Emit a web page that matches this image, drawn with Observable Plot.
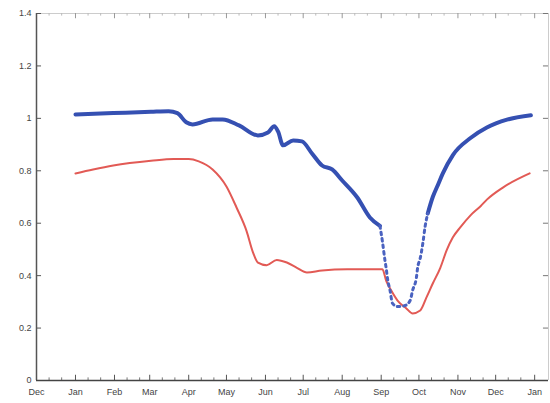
<!DOCTYPE html>
<html><head><meta charset="utf-8">
<script src="https://cdn.jsdelivr.net/npm/d3@7"></script>
<script src="https://cdn.jsdelivr.net/npm/@observablehq/plot@0.6"></script>
<style>body{margin:0;background:#fff}#chart svg{display:block}</style>
</head><body><div id="chart"></div>
<script>
// Blue series (x markers)
const blueDates = ["2007-01-01","2007-01-31","2007-03-02","2007-03-16","2007-03-23","2007-03-30","2007-04-04","2007-04-20","2007-04-28","2007-05-11","2007-05-26","2007-06-03","2007-06-08","2007-06-11","2007-06-15","2007-06-23","2007-06-30","2007-07-08","2007-07-16","2007-07-24","2007-08-01","2007-08-13","2007-08-23","2007-08-31","2007-09-02","2007-09-04","2007-09-05","2007-09-06","2007-09-08","2007-09-10","2007-09-14","2007-09-20","2007-09-24","2007-09-26","2007-09-29","2007-09-30","2007-10-02","2007-10-04","2007-10-06","2007-10-08","2007-10-12","2007-10-16","2007-10-20","2007-10-28","2007-11-11","2007-11-24","2007-12-10","2007-12-29"];
const blueValues = [1.015,1.02,1.025,1.027,1.02,0.985,0.977,0.996,0.996,0.973,0.935,0.946,0.97,0.95,0.897,0.916,0.912,0.866,0.82,0.805,0.763,0.698,0.622,0.59,0.53,0.458,0.427,0.39,0.344,0.294,0.282,0.286,0.305,0.344,0.393,0.431,0.466,0.52,0.59,0.637,0.70,0.745,0.79,0.86,0.925,0.965,0.995,1.012];
// Red series
const redDates = ["2007-01-01","2007-01-15","2007-01-31","2007-03-02","2007-03-20","2007-04-01","2007-04-09","2007-04-20","2007-05-01","2007-05-09","2007-05-17","2007-05-22","2007-05-26","2007-06-02","2007-06-10","2007-06-18","2007-06-26","2007-07-04","2007-07-16","2007-08-05","2007-09-02","2007-09-05","2007-09-09","2007-09-14","2007-09-21","2007-09-26","2007-10-02","2007-10-07","2007-10-12","2007-10-18","2007-10-23","2007-10-28","2007-11-03","2007-11-11","2007-11-19","2007-11-24","2007-12-07","2007-12-28"];
const redValues = [0.79,0.805,0.82,0.838,0.845,0.845,0.836,0.805,0.74,0.66,0.57,0.49,0.45,0.44,0.46,0.45,0.43,0.412,0.42,0.424,0.424,0.38,0.343,0.305,0.275,0.256,0.267,0.317,0.37,0.43,0.496,0.546,0.585,0.63,0.665,0.69,0.737,0.79];
// Axis ticks
const monthTicks = ["2006-12-01","2007-01-01","2007-02-01","2007-03-01","2007-04-01","2007-05-01","2007-06-01","2007-07-01","2007-08-01","2007-09-01","2007-10-01","2007-11-01","2007-12-01","2008-01-01"];
const monthLabels = ["Dec","Jan","Feb","Mar","Apr","May","Jun","Jul","Aug","Sep","Oct","Nov","Dec","Jan"];
const yTicks = [0,0.2,0.4,0.6,0.8,1,1.2,1.4];
const yLabels = ["0","0.2","0.4","0.6","0.8","1","1.2","1.4"];

const parse = d3.utcParse("%Y-%m-%d");
const steepStart = parse("2007-08-31"), steepEnd = parse("2007-10-08");
const blue = blueDates.map((d,i)=>({date: parse(d), value: blueValues[i]}));
const red = redDates.map((d,i)=>({date: parse(d), value: redValues[i]}));
const months = monthTicks.map(parse);
const minor = months.slice(0,-1).flatMap(m => [d3.utcDay.offset(m,10), d3.utcDay.offset(m,20)]);
const xStart = parse("2006-12-01"), xEnd = parse("2008-01-12");
const labelByTime = new Map(months.map((d,i)=>[+d, monthLabels[i]]));
const yLabelMap = new Map(yTicks.map((d,i)=>[d, yLabels[i]]));
const tx = d3.utcDay.offset(xStart, 4), txr = d3.utcDay.offset(xEnd, -4);

const plot = Plot.plot({
  width: 550, height: 403,
  marginLeft: 36, marginRight: 2, marginTop: 13, marginBottom: 23,
  style: {fontFamily: "Liberation Sans, Arial, sans-serif", fontSize: "9px", color: "#555", background: "#fff"},
  x: {type: "utc", domain: [xStart, xEnd], label: null},
  y: {domain: [0, 1.4], label: null},
  marks: [
    Plot.axisX({ticks: months, tickSize: 0, tickPadding: 8, tickFormat: d => labelByTime.get(+d), fill: "#444", label: null}),
    Plot.axisY({ticks: yTicks, tickSize: 0, tickPadding: 5, tickFormat: d => yLabelMap.get(d), fill: "#444", label: null}),
    // frame
    Plot.ruleY([1.4], {stroke: "#ccc"}),
    Plot.ruleX([xEnd], {stroke: "#ccc"}),
    // inward ticks
    Plot.ruleX(months, {x: d => d, y1: 0, y2: 0.02, stroke: "#555"}),
    Plot.ruleX(minor, {x: d => d, y1: 0, y2: 0.01, stroke: "#777"}),
    Plot.ruleX(months, {x: d => d, y1: 1.4, y2: 1.38, stroke: "#999"}),
    Plot.ruleX(minor, {x: d => d, y1: 1.4, y2: 1.39, stroke: "#bbb"}),
    Plot.ruleY(yTicks, {y: d => d, x1: xStart, x2: tx, stroke: "#555"}),
    Plot.ruleY(yTicks, {y: d => d, x1: txr, x2: xEnd, stroke: "#777"}),
    // data
    Plot.line(red, {x: "date", y: "value", stroke: "#e25a55", strokeWidth: 2, curve: "monotone-x"}),
    Plot.line(blue.filter(d => d.date <= steepStart), {x: "date", y: "value", stroke: "#3550b2", strokeWidth: 4, curve: "monotone-x"}),
    Plot.line(blue.filter(d => d.date >= steepEnd), {x: "date", y: "value", stroke: "#3550b2", strokeWidth: 4, curve: "monotone-x"}),
    Plot.line(blue.filter(d => d.date >= steepStart && d.date <= steepEnd), {x: "date", y: "value", stroke: "#4a62c0", strokeWidth: 3, strokeDasharray: "2.5,4", curve: "monotone-x"}),
    Plot.ruleX([xStart], {stroke: "#555", strokeWidth: 1.5}),
    Plot.ruleY([0], {stroke: "#444", strokeWidth: 1.5})
  ]
});
document.getElementById("chart").append(plot);
</script>
</body></html>
